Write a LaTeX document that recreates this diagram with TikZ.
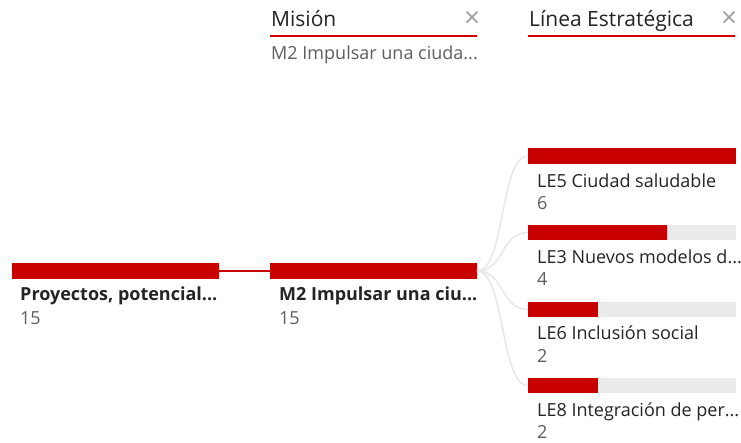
\documentclass[tikz,border=0pt]{standalone}
\usepackage{fontspec}
\setmainfont{Open Sans}
\usetikzlibrary{calc}
\definecolor{barred}{RGB}{200,0,0}
\definecolor{bargray}{RGB}{235,235,235}
\definecolor{linkgray}{RGB}{232,232,232}
\definecolor{txtdark}{RGB}{37,36,35}
\definecolor{txtgray}{RGB}{96,94,92}
\definecolor{xgray}{RGB}{160,160,160}
\definecolor{hdrred}{RGB}{215,0,0}
\tikzset{
  redbar/.style={fill=barred, draw=none},
  graybar/.style={fill=bargray, draw=none},
  lbl/.style={anchor=base west, inner sep=0pt, font=\fontsize{18}{20}\selectfont, text=txtdark},
  lblbold/.style={lbl, font=\fontsize{18}{20}\selectfont\bfseries},
  val/.style={anchor=base west, inner sep=0pt, font=\fontsize{18}{20}\selectfont, text=txtgray},
  hdr/.style={anchor=base west, inner sep=0pt, font=\fontsize{21}{23}\selectfont, text=txtdark},
  sub/.style={anchor=base west, inner sep=0pt, font=\fontsize{18}{20}\selectfont, text=txtgray},
  xmark/.style={anchor=center, inner sep=0pt, font=\fontsize{28}{28}\selectfont, text=xgray},
  hline/.style={draw=hdrred, line width=2.2pt},
  link/.style={draw=linkgray, line width=1.5pt},
  redlink/.style={draw=barred, line width=1.5pt}
}
\begin{document}
\begin{tikzpicture}[x=1pt, y=-1pt]
\useasboundingbox (0,0) rectangle (741,443);
\fill[white] (0,0) rectangle (741,443);
% headers
\node[hdr] (h1) at (271,27) {Misión};
\node[xmark] (x1) at (472,19) {×};
\draw[hline] (270,36) -- (477,36);
\node[sub] (s1) at (271,60) {M2 Impulsar una ciuda...};
\node[hdr] (h2) at (529,27) {Línea Estratégica};
\node[xmark] (x2) at (729,19) {×};
\draw[hline] (528,36) -- (735,36);
% level 1
\fill[redbar] (12,263) rectangle (219,279);
\coordinate (b1r) at (219,271);
\node[lblbold] (t1) at (20,301) {Proyectos, potencial...};
\node[val] (v1) at (20,324) {15};
% level 2
\fill[redbar] (270,263) rectangle (477,279);
\coordinate (b2l) at (270,271);
\coordinate (b2r) at (477,271);
\node[lblbold] (t2) at (279,301) {M2 Impulsar una ciu...};
\node[val] (v2) at (279,324) {15};
\draw[redlink] (b1r) -- (b2l);
% level 3
\fill[graybar] (528,148) rectangle (736,164);
\fill[redbar] (528,148) rectangle (736,164);
\coordinate (c1) at (528,156);
\node[lbl] (t31) at (537,188) {LE5 Ciudad saludable};
\node[val] (v31) at (537,210) {6};

\fill[graybar] (528,225) rectangle (736,240);
\fill[redbar] (528,225) rectangle (667,240);
\coordinate (c2) at (528,232.5);
\node[lbl] (t32) at (537,264) {LE3 Nuevos modelos d...};
\node[val] (v32) at (537,286) {4};

\fill[graybar] (528,302) rectangle (736,317);
\fill[redbar] (528,302) rectangle (598,317);
\coordinate (c3) at (528,309.5);
\node[lbl] (t33) at (537,340) {LE6 Inclusión social};
\node[val] (v33) at (537,362) {2};

\fill[graybar] (528,378) rectangle (736,393);
\fill[redbar] (528,378) rectangle (598,393);
\coordinate (c4) at (528,385.5);
\node[lbl] (t34) at (537,416) {LE8 Integración de per...};
\node[val] (v34) at (537,438) {2};

\foreach \c in {c1,c2,c3,c4}{
  \draw[link] (b2r) .. controls ($(b2r)+(28,0)$) and ($(\c)+(-28,0)$) .. (\c);
}
\end{tikzpicture}
\end{document}
